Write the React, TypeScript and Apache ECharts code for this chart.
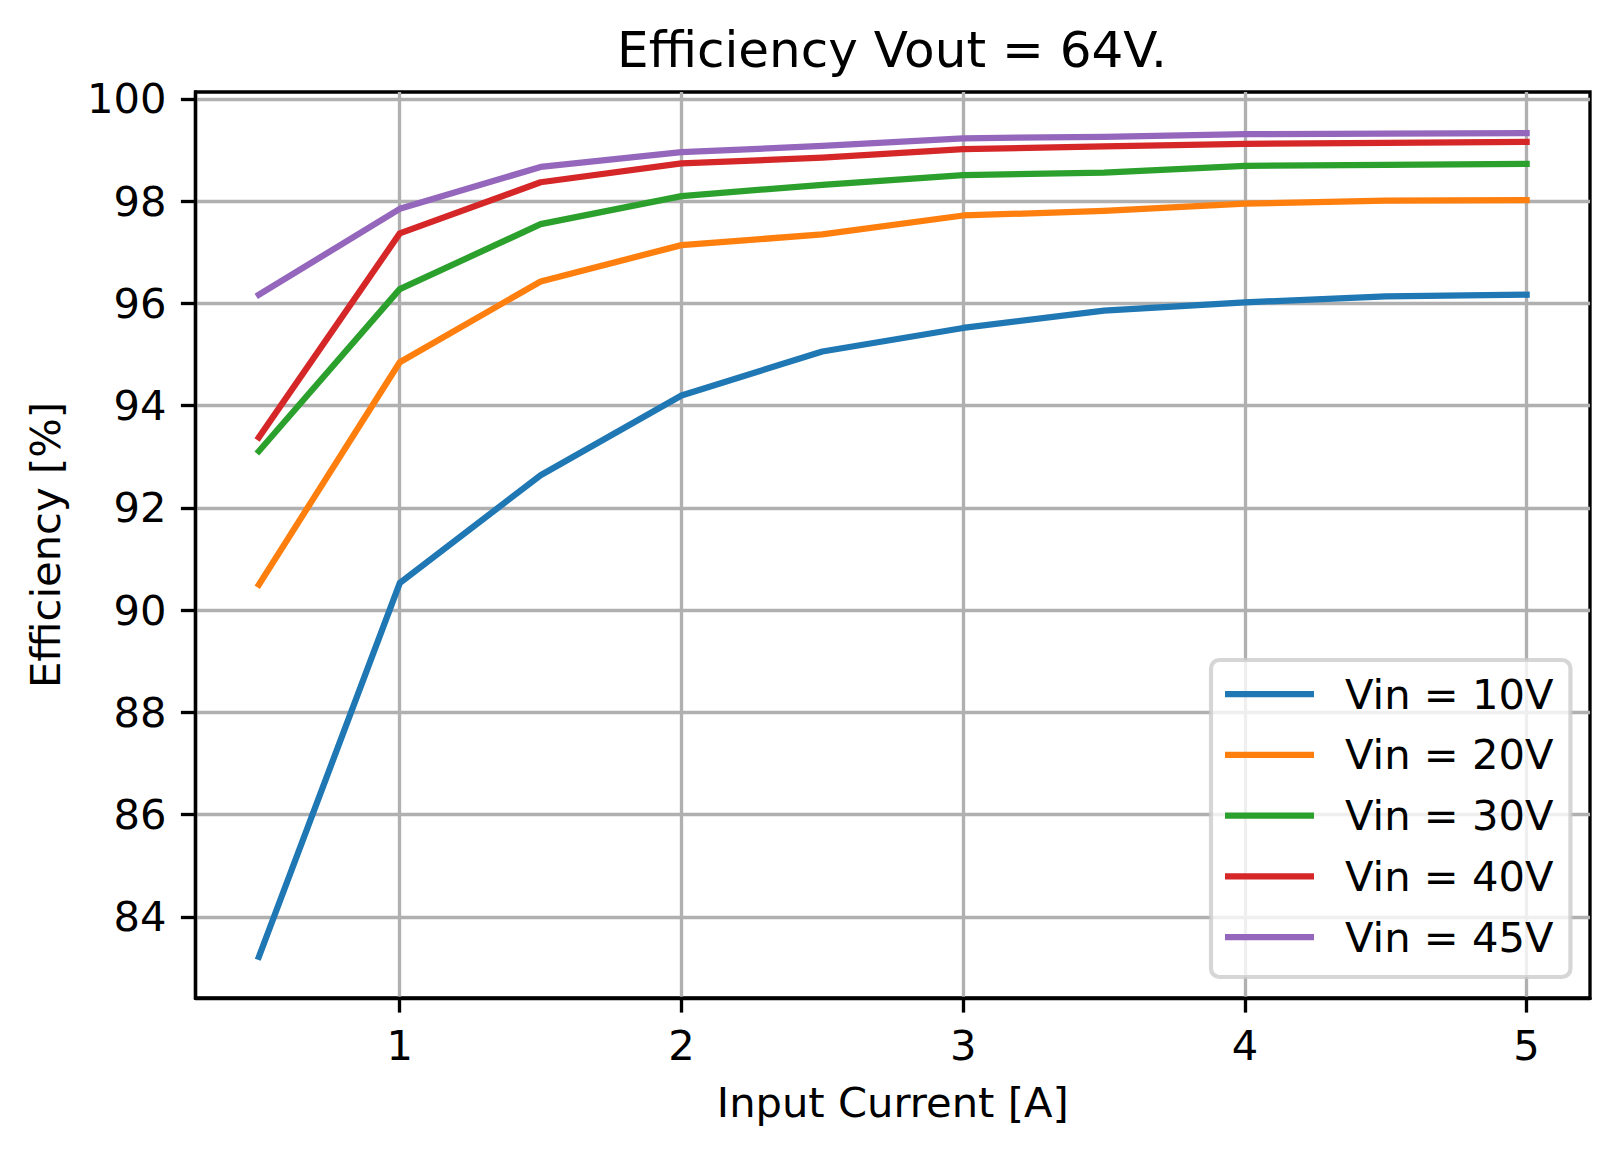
import React, { useEffect, useRef } from "react";
import * as echarts from "echarts";

const FONT = "'DejaVu Sans', sans-serif";

const currents = [0.5, 1, 1.5, 2, 2.5, 3, 3.5, 4, 4.5, 5];
const vin10 = [83.22, 90.53, 92.64, 94.2, 95.06, 95.52, 95.86, 96.02, 96.14, 96.17];
const vin20 = [90.5, 94.85, 96.43, 97.14, 97.35, 97.72, 97.81, 97.95, 98.01, 98.02];
const vin30 = [93.11, 96.28, 97.55, 98.1, 98.32, 98.51, 98.56, 98.69, 98.71, 98.73];
const vin40 = [93.38, 97.37, 98.37, 98.74, 98.85, 99.02, 99.07, 99.12, 99.14, 99.16];
const vin45 = [96.17, 97.85, 98.67, 98.96, 99.08, 99.23, 99.26, 99.31, 99.32, 99.33];

const seriesNames = ["Vin = 10V", "Vin = 20V", "Vin = 30V", "Vin = 40V", "Vin = 45V"];
const seriesValues = [vin10, vin20, vin30, vin40, vin45];
const colors = ["#1f77b4", "#ff7f0e", "#2ca02c", "#d62728", "#9467bd"];

const xTicks = [1, 2, 3, 4, 5];
const yTicks = [84, 86, 88, 90, 92, 94, 96, 98, 100];

const title = "Efficiency Vout = 64V.";
const xName = "Input Current [A]";
const yName = "Efficiency [%]";

function paddedRange(vals: number[]) {
  const lo = Math.min(...vals);
  const hi = Math.max(...vals);
  const m = (hi - lo) * 0.05;
  return [lo - m, hi + m];
}

export default function App() {
  const ref = useRef<HTMLDivElement>(null);
  useEffect(() => {
    document.body.style.margin = "0";
    const chart = echarts.init(ref.current!, null, { renderer: "svg" });
    const [xMin, xMax] = paddedRange(currents);
    const [yMin, yMax] = paddedRange(seriesValues.flat());
    const lw = 3.33;
    chart.setOption({
      animation: false,
      backgroundColor: "#ffffff",
      title: {
        text: title,
        left: 892,
        top: 25,
        padding: 0,
        textAlign: "center",
        textStyle: {
          fontFamily: FONT,
          fontSize: 50,
          lineHeight: 50,
          fontWeight: "normal",
          color: "#000",
        },
      },
      grid: {
        left: 195.5,
        right: 30,
        top: 92,
        bottom: 156,
        show: true,
        borderColor: "#000",
        borderWidth: lw,
        backgroundColor: "transparent",
      },
      legend: {
        orient: "vertical",
        left: 1211,
        top: 660,
        padding: [13, 17, 19, 14],
        itemGap: 18.75,
        itemWidth: 89,
        itemHeight: 6.25,
        icon: "rect",
        backgroundColor: "rgba(255,255,255,0.8)",
        borderColor: "rgba(204,204,204,0.8)",
        borderWidth: 4.17,
        borderRadius: 8.3,
        textStyle: {
          fontFamily: FONT,
          fontSize: 41.67,
          lineHeight: 42,
          color: "#000",
          padding: [0, 0, 0, 26],
        },
        data: seriesNames,
      },
      xAxis: {
        type: "value",
        min: xMin,
        max: xMax,
        name: xName,
        nameLocation: "middle",
        nameGap: 83,
        nameTextStyle: { fontFamily: FONT, fontSize: 41.67, lineHeight: 42, color: "#000" },
        axisLine: { show: true, lineStyle: { color: "#000", width: lw } },
        axisTick: {
          show: true,
          inside: false,
          length: 14.6,
          customValues: xTicks,
          lineStyle: { color: "#000", width: lw },
        },
        axisLabel: {
          customValues: xTicks,
          margin: 26,
          fontFamily: FONT,
          fontSize: 41.67,
          lineHeight: 42,
          color: "#000",
        },
        splitLine: { show: true, lineStyle: { color: "#b0b0b0", width: lw } },
      },
      yAxis: {
        type: "value",
        min: yMin,
        max: yMax,
        name: yName,
        nameLocation: "middle",
        nameGap: 129,
        nameTextStyle: { fontFamily: FONT, fontSize: 41.67, lineHeight: 42, color: "#000" },
        axisLine: { show: true, lineStyle: { color: "#000", width: lw } },
        axisTick: {
          show: true,
          inside: false,
          length: 14.6,
          customValues: yTicks,
          lineStyle: { color: "#000", width: lw },
        },
        axisLabel: {
          customValues: yTicks,
          margin: 29,
          fontFamily: FONT,
          fontSize: 41.67,
          lineHeight: 42,
          color: "#000",
        },
        splitLine: { show: true, lineStyle: { color: "#b0b0b0", width: lw } },
      },
      series: seriesNames.map((name, i) => ({
        name,
        type: "line",
        symbol: "none",
        showSymbol: false,
        color: colors[i],
        itemStyle: { color: colors[i] },
        lineStyle: { color: colors[i], width: 6.25, cap: "square", join: "round" },
        data: currents.map((x, j) => [x, seriesValues[i][j]]),
        z: 3,
      })),
    });
    return () => chart.dispose();
  }, []);
  return (
    <div
      ref={ref}
      style={{ position: "absolute", left: 0, top: 0, width: 1620, height: 1154 }}
    />
  );
}
